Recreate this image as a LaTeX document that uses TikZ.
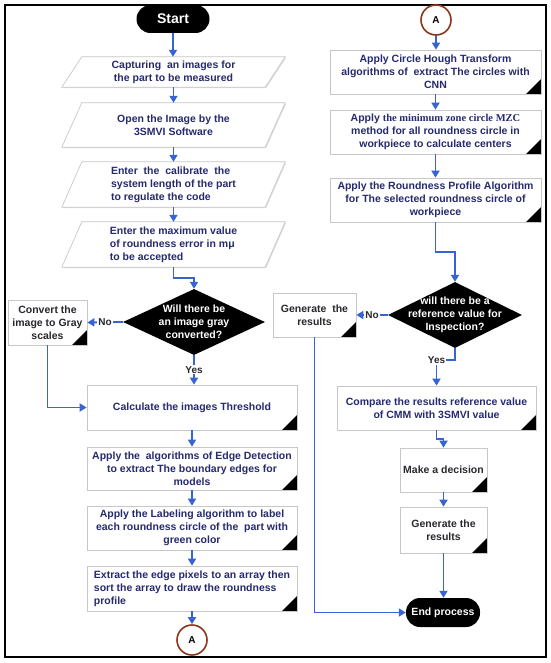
\documentclass[tikz,border=0pt]{standalone}
\usepackage{fontspec}
\setmainfont{Liberation Sans}
\newfontfamily\serifbf{Liberation Serif}
\usetikzlibrary{shapes.geometric,arrows.meta,shadows,calc,backgrounds}
\definecolor{navy}{RGB}{38,42,110}
\definecolor{flow}{RGB}{55,100,210}
\definecolor{dk}{RGB}{40,40,45}
\definecolor{cbrown}{RGB}{140,55,25}
\begin{document}
\begin{tikzpicture}[x=1pt,y=-1pt,
  txt/.style={font=\fontsize{10.5}{13}\selectfont\bfseries, text=navy, align=center, inner sep=2pt},
  box/.style={txt, rectangle, draw=black!22, fill=white, line width=0.7pt,
    drop shadow={opacity=0.3,shadow xshift=1pt,shadow yshift=-1pt},
    path picture={\fill[black] (path picture bounding box.south east) -- ++(-15pt,0pt) -- ++(15pt,15pt) -- cycle;}},
  para/.style={draw=black!22, fill=white, line width=0.7pt,
    drop shadow={opacity=0.25,shadow xshift=1pt,shadow yshift=-1pt}},
  dia/.style={diamond, fill=black, draw=none, inner sep=0pt, minimum width=#1, minimum height=66},
  dtxt/.style={font=\fontsize{10.5}{13}\selectfont\bfseries, text=white, align=center},
  term/.style={rectangle, rounded corners=14pt, fill=black, text=white, inner sep=0pt},
  circ/.style={circle, draw=cbrown, line width=1.6pt, fill=white, minimum size=30, inner sep=0pt,
    font=\fontsize{10}{11}\selectfont\bfseries, text=black},
  arr/.style={draw=flow, line width=1.8pt, -{Triangle[width=8pt,length=7pt]}},
  lbl/.style={font=\fontsize{10}{11}\selectfont\bfseries, text=dk, fill=white, inner sep=1pt}
]
\useasboundingbox (0,0) rectangle (550,663);
\draw[line width=1.6pt] (5,5) rectangle (546,657);

% ---------------- left column ----------------
\node[term, minimum width=73, minimum height=28, font=\fontsize{14}{16}\selectfont\bfseries] (start) at (173,19) {Start};

\node[txt, minimum width=203, minimum height=30] (p1) at (173.5,72) {Capturing\ \ an images for\\the part to be measured};
\node[txt, minimum width=203, minimum height=44] (p2) at (173.5,125) {Open the Image by the\\3SMVI Software};
\node[txt, align=left, minimum width=203, minimum height=45] (p3) at (173.5,184.5) {Enter\ \ the\ \ calibrate\ \ the\\system length of the part\\to regulate the code};
\node[txt, align=left, minimum width=203, minimum height=45] (p4) at (173.5,244.5) {Enter the maximum value\\of roundness error in mμ\\to be accepted};
\begin{scope}[on background layer]
\foreach \n in {p1,p2,p3,p4}{
  \path[para] ([xshift=10pt]\n.north west) -- ([xshift=10pt]\n.north east) -- ([xshift=-10pt]\n.south east) -- ([xshift=-10pt]\n.south west) -- cycle;
}
\end{scope}

\node[dia=142] (d1) at (194,322) {};
\node[dtxt] at (d1) {Will there be\\an image gray\\converted?};

\node[box, text=dk, minimum width=79, minimum height=45] (conv) at (47.5,322.5) {Convert the\\image to Gray\\scales};

\node[box, minimum width=210, minimum height=45] (thr) at (192,407.5) {Calculate the images Threshold};
\node[box, minimum width=210, minimum height=43] (edge) at (192,468.5) {Apply the\ \ algorithms of Edge Detection\\to extract The boundary edges for\\models};
\node[box, minimum width=210, minimum height=44] (lab) at (192,528) {Apply the Labeling algorithm to label\\each roundness circle of the\ \ part with\\green color};
\node[box, align=left, minimum width=210, minimum height=45] (ext) at (192,588.5) {Extract the edge pixels to an array then\\sort the array to draw the roundness\\profile};
\node[circ] (a1) at (192,640) {A};

% ---------------- right column ----------------
\node[circ] (a2) at (436,20) {A};
\node[box, minimum width=211, minimum height=44] (cht) at (435.5,72) {Apply Circle Hough Transform\\algorithms of\ \ extract The circles with\\CNN};
\node[box, minimum width=211, minimum height=44] (mzc) at (435.5,132) {Apply {\serifbf\bfseries the minimum zone circle MZC}\\method for all roundness circle in\\workpiece to calculate centers};
\node[box, minimum width=211, minimum height=44] (rpa) at (435.5,200) {Apply the Roundness Profile Algorithm\\for The selected roundness circle of\\workpiece};

\node[dia=134] (d2) at (455,315) {};
\node[dtxt] at (d2) {will there be a\\reference value for\\Inspection?};

\node[box, text=dk, minimum width=83, minimum height=44] (gen1) at (314.5,315) {Generate\ \ the\\results};
\node[box, minimum width=199, minimum height=44] (cmp) at (436.5,408) {Compare the results reference value\\of CMM with 3SMVI value};
\node[box, text=dk, minimum width=87, minimum height=44] (dec) at (443.5,470) {Make a decision};
\node[box, text=dk, minimum width=87, minimum height=46] (gen2) at (443.5,530) {Generate the\\results};
\node[term, minimum width=74, minimum height=29, font=\fontsize{10.5}{12}\selectfont\bfseries] (end) at (443,612.5) {End process};

% ---------------- connectors ----------------
\draw[arr] (start.south) -- (start.south |- p1.north);
\draw[arr] (p1.south) -- (p2.north);
\draw[arr] (p2.south) -- (p3.north);
\draw[arr] (p3.south) -- (p4.north);
\draw[arr] (p4.south) |- ($(p4.south)!0.5!(d1.north)$) -| (d1.north);
\draw[arr] (d1.west) -- node[lbl]{No} (conv.east);
\draw[arr] (d1.south) -- node[lbl]{Yes} (d1.south |- thr.north);
\draw[arr] (conv.south) |- (thr.west);
\draw[arr] (thr.south) -- (edge.north);
\draw[arr] (edge.south) -- (lab.north);
\draw[arr] (lab.south) -- (ext.north);
\draw[arr] (ext.south) -- (a1.north);

\draw[arr] (a2.south) -- (a2.south |- cht.north);
\draw[arr] (cht.south) -- (mzc.north);
\draw[arr] (mzc.south) -- (rpa.north);
\draw[arr] (rpa.south) |- ($(rpa.south)!0.5!(d2.north)$) -| (d2.north);
\draw[arr] (d2.west) -- node[lbl]{No} (gen1.east);
\draw[arr] (d2.south) -- ++(0,12) -| node[lbl, pos=0.5]{Yes} (cmp.north);
\draw[arr] (cmp.south) |- ($(cmp.south)!0.5!(dec.north)$) -| (dec.north);
\draw[arr] (dec.south) -- (gen2.north);
\draw[arr] (gen2.south) -- (gen2.south |- end.north);
\draw[arr] (gen1.south) |- (end.west);
\end{tikzpicture}
\end{document}
